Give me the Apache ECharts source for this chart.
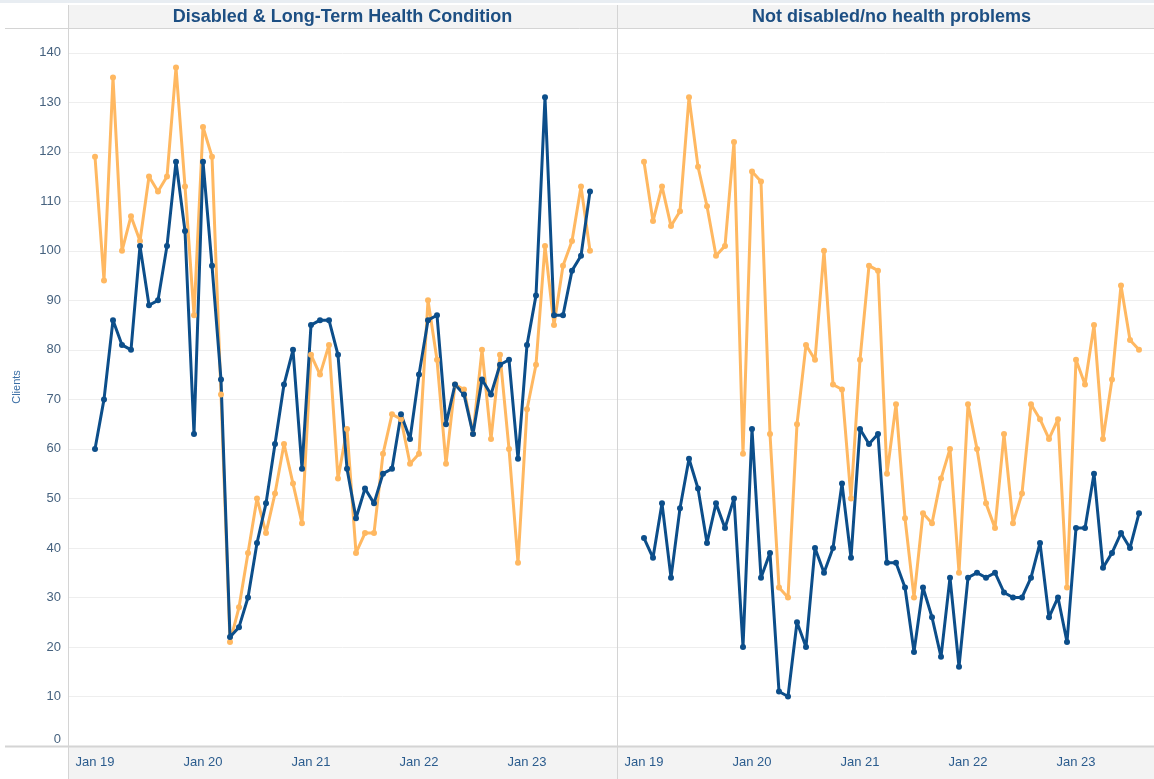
<!DOCTYPE html>
<html>
<head>
<meta charset="utf-8">
<script src="https://cdn.jsdelivr.net/npm/echarts@6/dist/echarts.min.js"></script>
<style>
html,body{margin:0;padding:0;background:#fff;}
#chart{width:1154px;height:779px;}
</style>
</head>
<body>
<div id="chart"></div>
<script>
// ---- data ----
const months = [
 'Jan 19','Feb 19','Mar 19','Apr 19','May 19','Jun 19','Jul 19','Aug 19','Sep 19','Oct 19','Nov 19','Dec 19',
 'Jan 20','Feb 20','Mar 20','Apr 20','May 20','Jun 20','Jul 20','Aug 20','Sep 20','Oct 20','Nov 20','Dec 20',
 'Jan 21','Feb 21','Mar 21','Apr 21','May 21','Jun 21','Jul 21','Aug 21','Sep 21','Oct 21','Nov 21','Dec 21',
 'Jan 22','Feb 22','Mar 22','Apr 22','May 22','Jun 22','Jul 22','Aug 22','Sep 22','Oct 22','Nov 22','Dec 22',
 'Jan 23','Feb 23','Mar 23','Apr 23','May 23','Jun 23','Jul 23','Aug 23'
];
const tickLabels = ['Jan 19','Jan 20','Jan 21','Jan 22','Jan 23'];
const yTicks = [0,10,20,30,40,50,60,70,80,90,100,110,120,130,140];
const panelTitles = ['Disabled & Long-Term Health Condition','Not disabled/no health problems'];

const disabledOrange = [
 119,94,135,100,107,102,115,112,115,137,113,87,
 125,119,71,21,28,39,50,43,51,61,53,45,
 79,75,81,54,64,39,43,43,59,67,66,57,
 59,90,78,57,73,72,63,80,62,79,60,37,
 68,77,101,85,97,102,113,100
];
const disabledBlue = [
 60,70,86,81,80,101,89,90,101,118,104,63,
 118,97,74,22,24,30,41,49,61,73,80,56,
 85,86,86,79,56,46,52,49,55,56,67,62,
 75,86,87,65,73,71,63,74,71,77,78,58,
 81,91,131,87,87,96,99,112
];
const notDisabledOrange = [
 118,106,113,105,108,131,117,109,99,101,122,59,
 116,114,63,32,30,65,81,78,100,73,72,50,
 78,97,96,55,69,46,30,47,45,54,60,35,
 69,60,49,44,63,45,51,69,66,62,66,32,
 78,73,85,62,74,93,82,80
];
const notDisabledBlue = [
 42,38,49,34,48,58,52,41,49,44,50,20,
 64,34,39,11,10,25,20,40,35,40,53,38,
 64,61,63,37,37,32,19,32,26,18,34,16,
 34,35,34,35,31,30,30,34,41,26,30,21,
 44,44,55,36,39,43,40,47
];

// ---- styling ----
const ORANGE = '#ffb861';
const BLUE = '#0c4e8a';
const GRID_LINE = '#eeeeee';
const BORDER = '#d4d4d4';
const STRIP = '#f3f3f3';
const FONT = '"Liberation Sans", Arial, sans-serif';

const chart = echarts.init(document.getElementById('chart'), null, {renderer:'canvas'});

function toPairs(arr){ return arr.map((v,i)=>[i,v]); }

// left pane: 549px wide showing -3..58; right pane is cut by the window edge (537px visible, same scale)
function xAxisFor(idx, maxVal){
  return {
    type:'value', gridIndex: idx, min:-3, max:maxVal, interval:1,
    axisLine:{show:false}, axisTick:{show:false}, splitLine:{show:false},
    axisLabel:{
      show:true, margin:10, color:'#2b5c8e', fontSize:13, fontFamily:FONT,
      showMaxLabel:false,
      formatter:function(v){
        const lab = months[v];
        return (lab && tickLabels.indexOf(lab) >= 0) ? lab : '';
      }
    }
  };
}
function yAxisFor(idx, showLabels){
  return {
    type:'value', gridIndex: idx, min:0, max:145, interval:10,
    name: showLabels ? 'Clients' : '',
    nameLocation:'middle', nameGap:46,
    nameTextStyle:{color:'#3a6ea5', fontSize:11, fontFamily:FONT},
    axisLine:{show:false}, axisTick:{show:false},
    splitLine:{show:true, lineStyle:{color:GRID_LINE, width:1}},
    axisLabel:{
      show: showLabels, margin:7, color:'#46627f', fontSize:13, fontFamily:FONT,
      verticalAlignMinLabel:'bottom',
      formatter:function(v){ return yTicks.indexOf(v) >= 0 ? String(v) : ''; }
    }
  };
}
function lineSeries(data, color, xi){
  return {
    type:'line', xAxisIndex:xi, yAxisIndex:xi, data: toPairs(data),
    symbol:'circle', symbolSize:6, showSymbol:true,
    lineStyle:{color:color, width:3},
    itemStyle:{color:color},
    emphasis:{disabled:true},
    animation:false
  };
}

const option = {
  backgroundColor:'#ffffff',
  animation:false,
  grid:[
    {left:68, top:28, width:549, height:718, containLabel:false},
    {left:617, top:28, width:537, height:718, containLabel:false}
  ],
  xAxis:[xAxisFor(0, 58), xAxisFor(1, -3 + 537/9)],
  yAxis:[yAxisFor(0,true), yAxisFor(1,false)],
  series:[
    lineSeries(disabledOrange, ORANGE, 0),
    lineSeries(disabledBlue, BLUE, 0),
    lineSeries(notDisabledOrange, ORANGE, 1),
    lineSeries(notDisabledBlue, BLUE, 1)
  ],
  graphic:[
    {type:'rect', z:-10, silent:true, shape:{x:0,y:0,width:1154,height:3}, style:{fill:'#e8edf2'}},
    {type:'rect', z:-10, silent:true, shape:{x:68,y:5,width:1086,height:23}, style:{fill:STRIP}},
    {type:'rect', z:-10, silent:true, shape:{x:68,y:747,width:1086,height:32}, style:{fill:STRIP}},
    {type:'line', z:5, silent:true, shape:{x1:5,y1:28.5,x2:1154,y2:28.5}, style:{stroke:BORDER, lineWidth:1}},
    {type:'line', z:5, silent:true, shape:{x1:5,y1:746.5,x2:1154,y2:746.5}, style:{stroke:BORDER, lineWidth:2}},
    {type:'line', z:5, silent:true, shape:{x1:68.5,y1:5,x2:68.5,y2:779}, style:{stroke:BORDER, lineWidth:1}},
    {type:'line', z:5, silent:true, shape:{x1:617.5,y1:5,x2:617.5,y2:779}, style:{stroke:BORDER, lineWidth:1}},
    {type:'text', z:6, silent:true, x:342.5, y:17,
      style:{text:panelTitles[0], fill:'#1d4f83', font:'bold 18px '+FONT, textAlign:'center', textVerticalAlign:'middle'}},
    {type:'text', z:6, silent:true, x:891.5, y:17,
      style:{text:panelTitles[1], fill:'#1d4f83', font:'bold 18px '+FONT, textAlign:'center', textVerticalAlign:'middle'}}
  ]
};
chart.setOption(option);
</script>
</body>
</html>
